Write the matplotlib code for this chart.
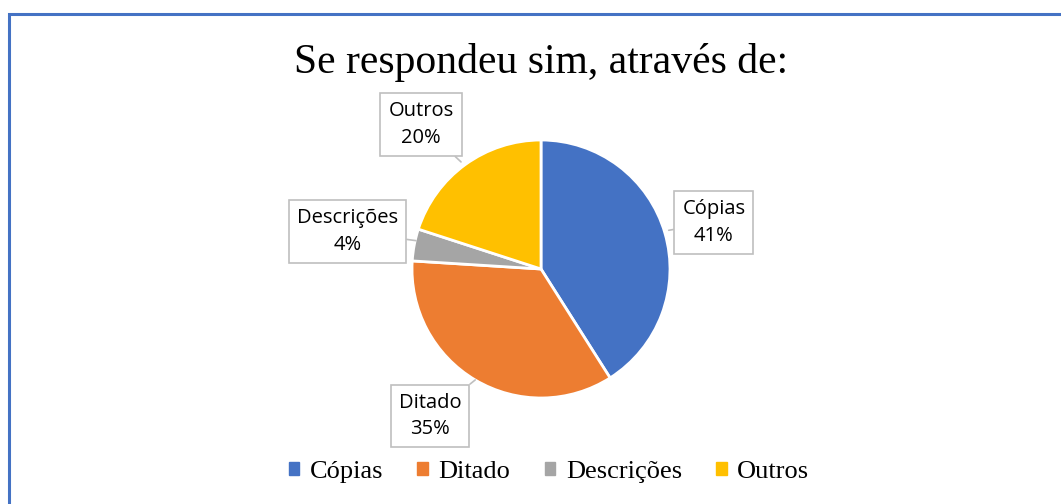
import matplotlib.pyplot as plt
from matplotlib.patches import Rectangle

categories = ["Cópias", "Ditado", "Descrições", "Outros"]
shares = [41, 35, 4, 20]
colors = ["#4472C4", "#ED7D31", "#A5A5A5", "#FFC000"]

title = "Se respondeu sim, através de:"

# label box centres and tail targets, in pie-radius units
label_pos = [(1.34, 0.36), (-0.86, -1.14), (-1.50, 0.29), (-0.93, 1.12)]
tail_pos = [(0.99, 0.30), (-0.51, -0.86), (-0.97, 0.22), (-0.62, 0.83)]

W, H = 1061, 504
fig = plt.figure(figsize=(W / 100, H / 100), dpi=100)

cx, cy, r = 541, 269, 129
ax = fig.add_axes([(cx - r) / W, (H - cy - r) / H, 2 * r / W, 2 * r / H])
ax.pie(shares, colors=colors, startangle=90, counterclock=False,
       wedgeprops=dict(edgecolor="white", linewidth=2))
ax.set_xlim(-1, 1)
ax.set_ylim(-1, 1)
ax.set_aspect("equal")
ax.axis("off")

for name, val, (lx, ly), (tx, ty) in zip(categories, shares, label_pos, tail_pos):
    ax.annotate(f"{name}\n{val}%", xy=(tx, ty), xytext=(lx, ly),
                ha="center", va="center", fontsize=14.5, family="Open Sans",
                linespacing=1.45, annotation_clip=False,
                bbox=dict(boxstyle="square,pad=0.4", fc="white", ec="#BFBFBF", lw=1.2),
                arrowprops=dict(arrowstyle="-", color="#BFBFBF", lw=1.2,
                                shrinkA=0, shrinkB=0))

fig.text(541 / W, 1 - 62 / H, title, ha="center", va="center",
         fontsize=30, family="Liberation Serif")

handles = [Rectangle((0, 0), 1, 1, color=c) for c in colors]
fig.legend(handles, categories, loc="center", bbox_to_anchor=(549 / W, 1 - 472 / H),
           ncol=4, frameon=False, handlelength=0.4, handleheight=0.4,
           handletextpad=0.4, columnspacing=1.3,
           prop={"family": "Liberation Serif", "size": 19})

# outer chart border
fig.add_artist(Rectangle((9 / W, -0.1), 1.2, 1.1 - 14 / H, transform=fig.transFigure,
                         fill=False, ec="#4472C4", lw=2.2))

fig.savefig("out.png", dpi=100)
